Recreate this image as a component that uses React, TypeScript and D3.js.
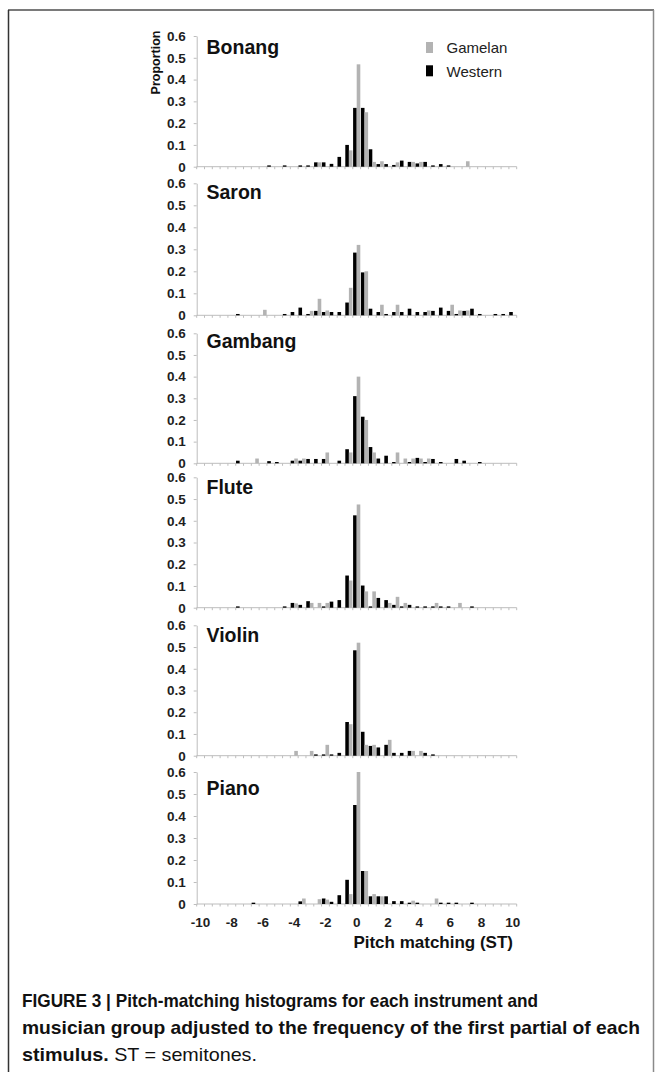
// Pitch-matching histograms, six instruments stacked
import * as d3 from 'd3';
import React, { Component, createRef } from 'react';

// 0.5-semitone bins from -10 to 10
const bins = [
    -10, -9.5, -9, -8.5, -8, -7.5, -7, -6.5, -6, -5.5, -5, -4.5, -4, -3.5,
    -3, -2.5, -2, -1.5, -1, -0.5, 0, 0.5, 1, 1.5, 2, 2.5, 3, 3.5, 4, 4.5,
    5, 5.5, 6, 6.5, 7, 7.5, 8, 8.5, 9, 9.5, 10
];
const xTickLabels = [ -10, -8, -6, -4, -2, 0, 2, 4, 6, 8, 10 ];
const yTicks = [ 0, 0.1, 0.2, 0.3, 0.4, 0.5, 0.6 ];

const instruments = [ 'Bonang', 'Saron', 'Gambang', 'Flute', 'Violin', 'Piano' ];
const groups = [ 'Western', 'Gamelan' ];
const legendLabels = [ 'Gamelan', 'Western' ];

const bonangWestern = [ 0, 0, 0, 0, 0, 0, 0, 0, 0, 0.006, 0, 0.006, 0, 0.006, 0.006, 0.02, 0.02, 0.013, 0.045, 0.1,
    0.27, 0.27, 0.08, 0.012, 0.012, 0.008, 0.028, 0.022, 0.015, 0.022, 0.006, 0.012, 0.006, 0, 0, 0, 0, 0, 0, 0, 0 ];
const bonangGamelan = [ 0, 0, 0, 0, 0, 0, 0, 0, 0, 0, 0, 0, 0, 0, 0, 0.02, 0, 0, 0, 0.075,
    0.47, 0.25, 0.022, 0.025, 0, 0.02, 0, 0.022, 0.022, 0, 0, 0, 0, 0, 0.025, 0, 0, 0, 0, 0, 0 ];

const saronWestern = [ 0, 0, 0, 0, 0, 0.006, 0, 0, 0, 0, 0, 0.006, 0.015, 0.035, 0.006, 0.02, 0.015, 0.015, 0.015, 0.058,
    0.285, 0.195, 0.03, 0.015, 0.006, 0.015, 0.015, 0.03, 0.015, 0.015, 0.02, 0.035, 0.02, 0.006, 0.02, 0.03, 0.006, 0, 0.006, 0.006, 0.015 ];
const saronGamelan = [ 0, 0, 0, 0, 0, 0, 0, 0, 0.025, 0, 0, 0, 0, 0, 0.02, 0.075, 0.022, 0, 0, 0.125,
    0.32, 0.2, 0, 0.048, 0, 0.048, 0, 0, 0, 0.022, 0, 0, 0.048, 0.022, 0.022, 0, 0, 0, 0, 0, 0 ];

const gambangWestern = [ 0, 0, 0, 0, 0, 0.012, 0, 0, 0, 0.01, 0.006, 0, 0.012, 0.012, 0.02, 0.02, 0.02, 0, 0.012, 0.065,
    0.31, 0.215, 0.075, 0.022, 0.035, 0.006, 0, 0.006, 0.025, 0.006, 0.02, 0.006, 0, 0.02, 0.012, 0, 0.006, 0, 0, 0, 0 ];
const gambangGamelan = [ 0, 0, 0, 0, 0, 0, 0, 0.022, 0, 0, 0, 0, 0.022, 0.022, 0, 0, 0.05, 0, 0, 0.05,
    0.4, 0.2, 0.05, 0, 0, 0.05, 0.022, 0.022, 0.022, 0.022, 0, 0, 0, 0, 0, 0, 0, 0, 0, 0, 0 ];

const fluteWestern = [ 0, 0, 0, 0, 0, 0.006, 0, 0, 0, 0, 0, 0.006, 0.022, 0.013, 0.03, 0, 0.006, 0.028, 0.035, 0.148,
    0.425, 0.102, 0.006, 0.045, 0.035, 0.013, 0.006, 0.013, 0.006, 0.006, 0.006, 0.006, 0.006, 0, 0, 0.006, 0, 0, 0, 0, 0 ];
const fluteGamelan = [ 0, 0, 0, 0, 0, 0, 0, 0, 0, 0, 0, 0, 0.02, 0, 0.022, 0.022, 0.022, 0, 0, 0.125,
    0.475, 0.075, 0.075, 0, 0.022, 0.05, 0.022, 0, 0, 0, 0.022, 0, 0, 0.022, 0, 0, 0, 0, 0, 0, 0 ];

const violinWestern = [ 0, 0, 0, 0, 0, 0, 0, 0, 0, 0, 0, 0, 0, 0, 0, 0.006, 0.006, 0.006, 0.013, 0.155,
    0.485, 0.11, 0.045, 0.038, 0.05, 0.013, 0.013, 0.022, 0, 0.013, 0.006, 0, 0, 0, 0, 0, 0, 0, 0, 0, 0 ];
const violinGamelan = [ 0, 0, 0, 0, 0, 0, 0, 0, 0, 0, 0, 0, 0.022, 0, 0.022, 0, 0.05, 0, 0, 0.145,
    0.52, 0.05, 0.05, 0, 0.073, 0, 0, 0.022, 0.022, 0, 0, 0, 0, 0, 0, 0, 0, 0, 0, 0, 0 ];

const pianoWestern = [ 0, 0, 0, 0, 0, 0, 0, 0.006, 0, 0, 0, 0, 0, 0.012, 0, 0, 0.025, 0.01, 0.04, 0.11,
    0.45, 0.15, 0.035, 0.035, 0.035, 0.013, 0.013, 0.006, 0.006, 0, 0, 0.006, 0.006, 0.006, 0, 0.006, 0, 0, 0, 0, 0 ];
const pianoGamelan = [ 0, 0, 0, 0, 0, 0, 0, 0, 0, 0, 0, 0, 0, 0.025, 0, 0.022, 0.02, 0, 0, 0.045,
    0.6, 0.15, 0.045, 0.035, 0, 0, 0, 0.015, 0, 0, 0.025, 0, 0, 0, 0, 0, 0, 0, 0, 0, 0 ];

const series = {
    Bonang: { Western: bonangWestern, Gamelan: bonangGamelan },
    Saron: { Western: saronWestern, Gamelan: saronGamelan },
    Gambang: { Western: gambangWestern, Gamelan: gambangGamelan },
    Flute: { Western: fluteWestern, Gamelan: fluteGamelan },
    Violin: { Western: violinWestern, Gamelan: violinGamelan },
    Piano: { Western: pianoWestern, Gamelan: pianoGamelan }
};

const captionLines = [
    'FIGURE 3 | Pitch-matching histograms for each instrument and',
    'musician group adjusted to the frequency of the first partial of each'
];

type Panel = {
    top: number;
    bottom: number;
    titleY: number;
}

const FONT = '"Liberation Sans", Arial, Helvetica, sans-serif';
const AXIS = '#bdbdbd';
const colors = { Western: '#000000', Gamelan: '#b3b3b3' };

/**
 * Stacked histograms figure.
 */
class App extends Component<any, any> {
    ref: any;
    dimensions: any;
    panels: Array<Panel>;

    constructor(props: any) {
        super(props);
        this.ref = createRef();
        this.dimensions = { width: 662,
            height: 1072,
            left: 196.7,
            right: 516.7 };

        // y of 0.6 / y of 0 / title baseline, one per instrument
        this.panels = [
            { top: 36, bottom: 166.7, titleY: 53.5 },
            { top: 183.3, bottom: 315.3, titleY: 199 },
            { top: 333.3, bottom: 463.3, titleY: 347.5 },
            { top: 477.3, bottom: 607.7, titleY: 494 },
            { top: 625.3, bottom: 755.7, titleY: 641.5 },
            { top: 772, bottom: 904, titleY: 795 }
        ];
    }

    componentDidMount() {
        this.drawChart();
    }

    componentDidUpdate() {
        d3.select(this.ref.current).selectAll('*').remove();
        this.drawChart();
    }

    drawChart() {
        const dims = this.dimensions;
        const svg = d3.select(this.ref.current);

        // figure frame
        svg.append('line')
            .attr('x1', 8).attr('x2', 654).attr('y1', 10).attr('y2', 10)
            .attr('stroke', '#7a7a7a').attr('stroke-width', 2);
        svg.append('line')
            .attr('x1', 8.5).attr('x2', 8.5).attr('y1', 10).attr('y2', dims.height)
            .attr('stroke', '#333').attr('stroke-width', 1.5);
        svg.append('line')
            .attr('x1', 653.5).attr('x2', 653.5).attr('y1', 10).attr('y2', dims.height)
            .attr('stroke', '#8a8a8a').attr('stroke-width', 1.5);

        const x = d3.scaleBand()
            .domain(bins.map(String))
            .range([ dims.left, dims.right ])
            .padding(0);
        const inner = d3.scaleBand()
            .domain(groups)
            .range([ 0.3, x.bandwidth() - 0.3 ])
            .padding(0);

        instruments.forEach((name, k) => {
            const p: Panel = this.panels[k];
            const y = d3.scaleLinear().domain([ 0, 0.6 ]).range([ p.bottom, p.top ]);
            const g = svg.append('g');

            // y axis
            const yAxis = g.append('g')
                .attr('transform', `translate(${dims.left},0)`)
                .call(d3.axisLeft(y)
                    .tickValues(yTicks)
                    .tickSize(3)
                    .tickSizeOuter(0)
                    .tickPadding(8)
                    .tickFormat(d => (d === 0 ? '0' : d3.format('.1f')(d))));
            yAxis.select('.domain').attr('stroke', AXIS);
            yAxis.selectAll('.tick line').attr('stroke', AXIS);
            yAxis.selectAll('.tick text')
                .attr('fill', '#1e1e1e')
                .style('font-family', FONT)
                .style('font-size', '13.5px')
                .style('font-weight', 'bold');

            // x baseline with a small tick on every bin boundary
            g.append('line')
                .attr('x1', dims.left).attr('x2', dims.right)
                .attr('y1', p.bottom).attr('y2', p.bottom)
                .attr('stroke', AXIS);
            g.append('g')
                .selectAll('line')
                .data([ ...bins.map(b => x(String(b))), dims.right ])
                .enter()
                .append('line')
                .attr('x1', d => d).attr('x2', d => d)
                .attr('y1', p.bottom).attr('y2', p.bottom + 2.5)
                .attr('stroke', AXIS);

            // bars
            groups.forEach(grp => {
                g.append('g')
                    .selectAll('rect')
                    .data(series[name][grp].map((v, i) => ({ bin: bins[i], value: v })).filter(d => d.value > 0))
                    .enter()
                    .append('rect')
                    .attr('x', d => x(String(d.bin)) + inner(grp))
                    .attr('width', inner.bandwidth())
                    .attr('y', d => y(d.value))
                    .attr('height', d => p.bottom - y(d.value))
                    .attr('fill', colors[grp]);
            });

            g.append('text')
                .attr('x', 206.5)
                .attr('y', p.titleY)
                .style('font-family', FONT)
                .style('font-size', '19.5px')
                .style('font-weight', 'bold')
                .attr('fill', '#111')
                .text(name);

            if (k === instruments.length - 1) {
                const xAxis = g.append('g')
                    .attr('transform', `translate(0,${p.bottom})`)
                    .call(d3.axisBottom(x)
                        .tickValues(xTickLabels.map(String))
                        .tickSize(0)
                        .tickPadding(13));
                xAxis.select('.domain').remove();
                xAxis.selectAll('.tick text')
                    .attr('fill', '#1e1e1e')
                    .style('font-family', FONT)
                    .style('font-size', '13.5px')
                    .style('font-weight', 'bold');

                g.append('text')
                    .attr('x', 513)
                    .attr('y', p.bottom + 44)
                    .attr('text-anchor', 'end')
                    .style('font-family', FONT)
                    .style('font-size', '17px')
                    .style('font-weight', 'bold')
                    .attr('fill', '#111')
                    .text('Pitch matching (ST)');
            }
        });

        // y axis title, only on the first panel
        svg.append('text')
            .attr('transform', 'translate(159.5,62.5) rotate(-90)')
            .attr('text-anchor', 'middle')
            .style('font-family', FONT)
            .style('font-size', '12.5px')
            .style('font-weight', 'bold')
            .attr('fill', '#111')
            .text('Proportion');

        // legend
        const legend = svg.append('g');
        legendLabels.forEach((lab, i) => {
            legend.append('rect')
                .attr('x', 426)
                .attr('y', 42 + i * 23.3)
                .attr('width', 7)
                .attr('height', 11)
                .attr('fill', colors[lab]);
            legend.append('text')
                .attr('x', 446.5)
                .attr('y', 53.3 + i * 23.3)
                .style('font-family', FONT)
                .style('font-size', '15px')
                .attr('fill', '#222')
                .text(lab);
        });

        // caption, squeezed to the widths of the printed lines
        const capFont = '"Liberation Sans Narrow", "Arial Narrow", "Liberation Sans", Arial, sans-serif';
        const capWidths = [ 516, 618 ];
        captionLines.forEach((line, i) => {
            svg.append('text')
                .attr('x', 22)
                .attr('y', 1007 + i * 27)
                .attr('textLength', capWidths[i])
                .attr('lengthAdjust', 'spacingAndGlyphs')
                .style('font-family', capFont)
                .style('font-size', '18.5px')
                .style('font-weight', 'bold')
                .attr('fill', '#111')
                .text(line);
        });
        const last = svg.append('text')
            .attr('x', 22)
            .attr('y', 1061)
            .attr('textLength', 235)
            .attr('lengthAdjust', 'spacingAndGlyphs')
            .style('font-family', capFont)
            .style('font-size', '18.5px')
            .attr('fill', '#111');
        last.append('tspan').style('font-weight', 'bold').text('stimulus.');
        last.append('tspan').text(' ST = semitones.');
    }

    render() {
        return (
            <svg
                ref={this.ref}
                width={662}
                height={1072}
                style={{ position: 'absolute', left: 0, top: 0, background: '#fff' }} />
        );
    }
}

export default App;
